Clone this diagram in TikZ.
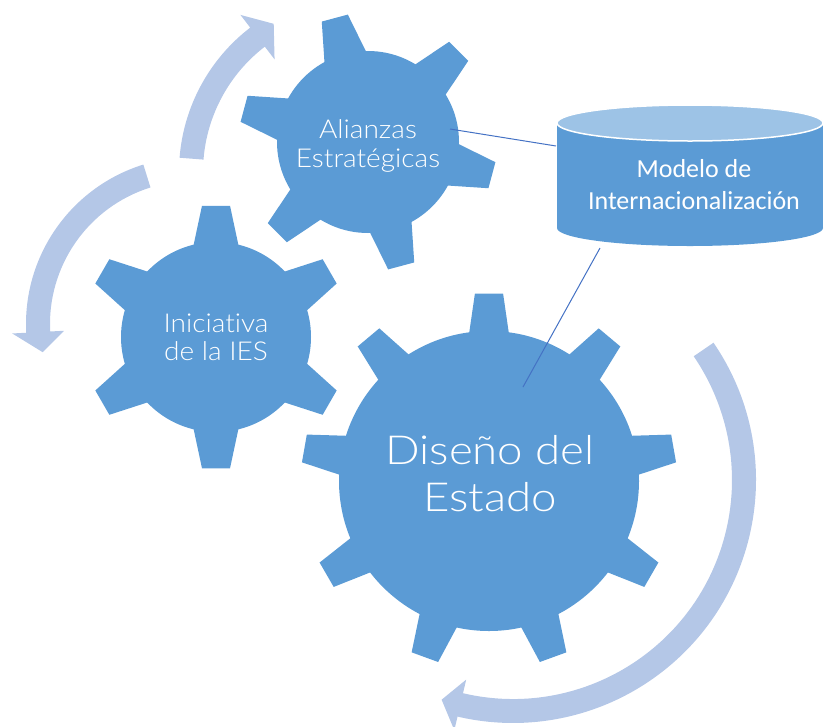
\documentclass[tikz,border=0pt]{standalone}
\usepackage{fontspec}
\newfontfamily\gearfont[FakeStretch=1.08,Ligatures=NoCommon]{Lato Light}
\newfontfamily\grossfont[FakeStretch=1.14,Ligatures=NoCommon]{Lato Light}
\newfontfamily\zylfont{Carlito}
\usepackage{tikz}
\definecolor{zahnblau}{HTML}{5B9BD5}
\definecolor{pfeilblau}{HTML}{B4C7E7}
\definecolor{deckelblau}{HTML}{9DC3E6}
\definecolor{linienblau}{HTML}{4472C4}

\begin{document}
\begin{tikzpicture}[x=1pt,y=-1pt,
    zahnrad/.style={fill=zahnblau},
    pfeil/.style={fill=pfeilblau},
    beschriftung/.style={text=white,align=center,inner sep=0pt},
    verbinder/.style={draw=linienblau,line width=1pt}]
\useasboundingbox (0,0) rectangle (824,726);
%Pfeile (Winkel im Uhrzeigersinn, da y nach unten zeigt)
\begin{scope}[shift={(361,172)}]
  \fill[pfeil] (184.5:182) arc[start angle=184.5,end angle=232.5,radius=182] -- (232.5:198) -- (239.5:172) -- (232.5:142) -- (232.5:158) arc[start angle=232.5,end angle=184.5,radius=158] -- cycle;
\end{scope}
\begin{scope}[shift={(193,324)}]
  \fill[pfeil] (252.7:167) arc[start angle=252.7,end angle=177,radius=167] -- (177:181) -- (169.4:153) -- (177:129) -- (177:143) arc[start angle=177,end angle=252.7,radius=143] -- cycle;
\end{scope}
\begin{scope}[shift={(513,480)}]
  \fill[pfeil] (-34.4:243) arc[start angle=-34.4,end angle=103.2,radius=243] -- (103.2:257) -- (108:231) -- (103.2:205) -- (103.2:219) arc[start angle=103.2,end angle=-34.4,radius=219] -- cycle;
\end{scope}
%Zahnraeder
\fill[zahnrad] (368,142) circle[radius=91];
\foreach \w in {15,75,...,315}{
  \fill[zahnrad,shift={(368,142)}] (\w-14.5:88) -- (\w-6:129) -- (\w+6:129) -- (\w+14.5:88) -- cycle;
}
\fill[zahnrad] (216,337) circle[radius=95];
\foreach \w in {30,90,...,330}{
  \fill[zahnrad,shift={(216,337)}] (\w-14.5:92) -- (\w-6.1:132) -- (\w+6.1:132) -- (\w+14.5:92) -- cycle;
}
\fill[zahnrad] (489,481) circle[radius=150];
\foreach \w in {30,70,...,350}{
  \fill[zahnrad,shift={(489,481)}] (\w-8:146) -- (\w-4.3:188) -- (\w+4.3:188) -- (\w+8:146) -- cycle;
}
%Zylinder
\fill[zahnblau] (557,123) rectangle (823,228);
\fill[zahnblau] (690,228) ellipse[x radius=133,y radius=18];
\filldraw[fill=deckelblau,draw=white,line width=1.5pt] (690,123) ellipse[x radius=133,y radius=18];
%Texte
\node[beschriftung,font=\gearfont\fontsize{26}{29}\selectfont] (alianzas) at (368,146) {Alianzas\\Estratégicas};
\node[beschriftung,font=\gearfont\fontsize{26}{28}\selectfont] (iniciativa) at (216,337) {Iniciativa\\de la IES};
\node[beschriftung,font=\grossfont\fontsize{40}{47}\selectfont] (diseno) at (490,474) {Diseño del\\Estado};
\node[beschriftung,font=\zylfont\fontsize{26}{32}\selectfont] (modelo) at (694,185) {Modelo de\\Internacionalización};
%Verbindungslinien
\coordinate (a1) at (450,129);
\coordinate (m1) at (556,146);
\coordinate (m2) at (600,248);
\coordinate (d1) at (523,387);
\draw[verbinder] (a1) -- (m1);
\draw[verbinder] (m2) -- (d1);
\end{tikzpicture}
\end{document}
